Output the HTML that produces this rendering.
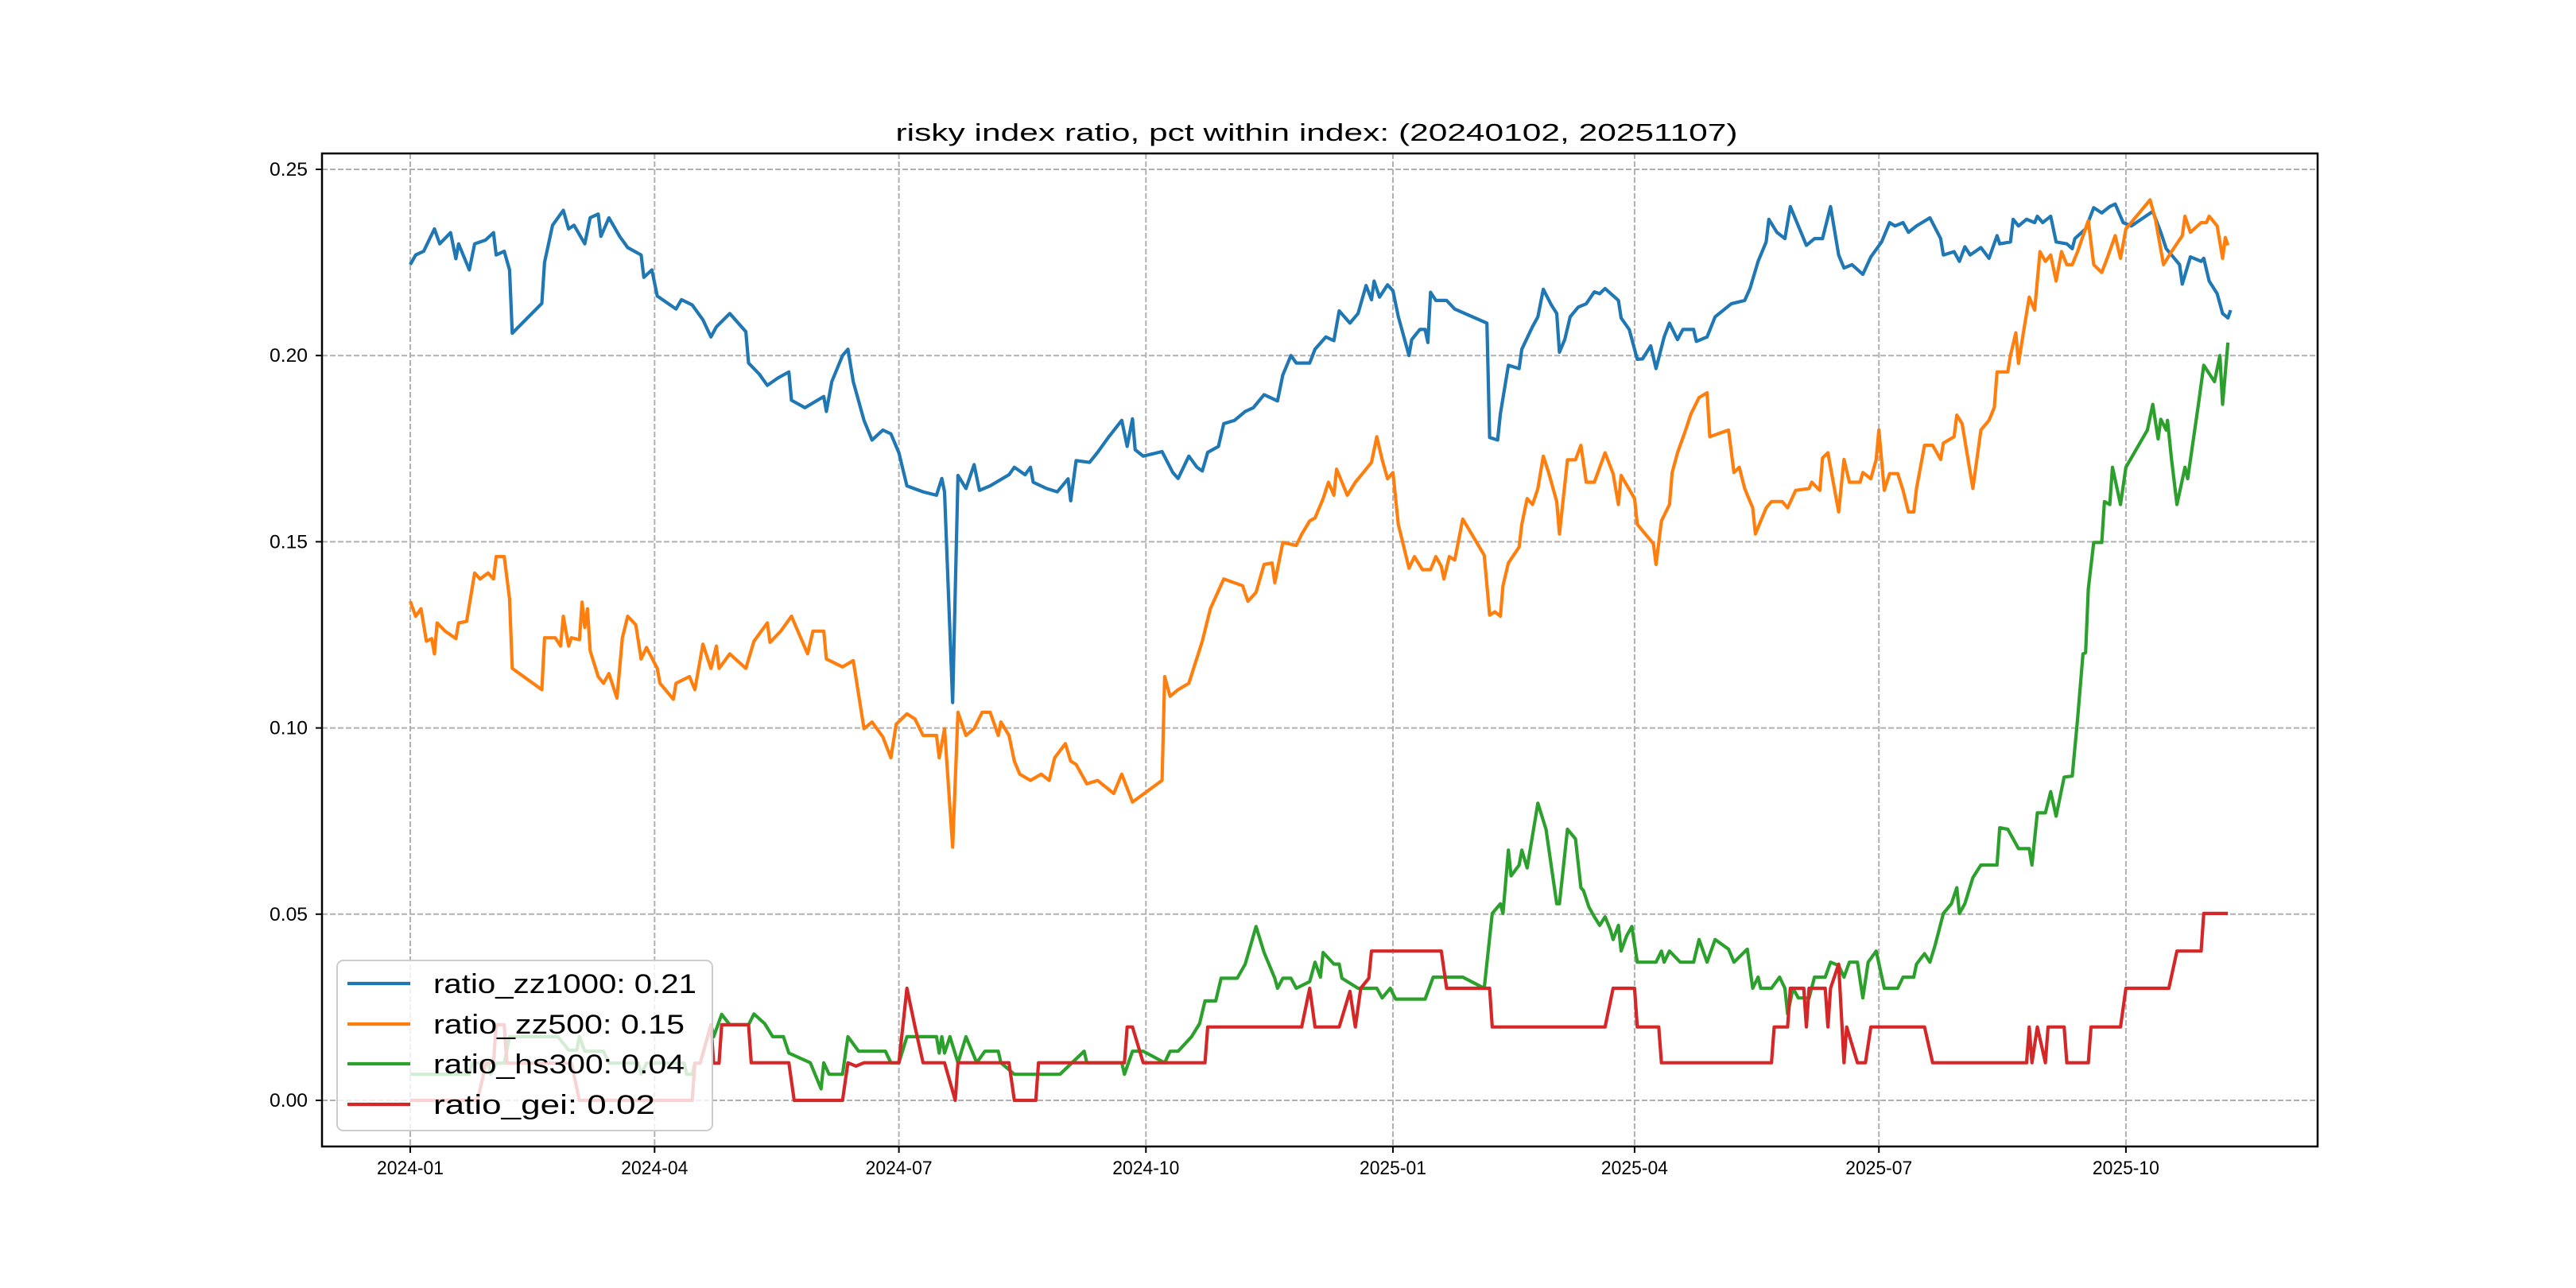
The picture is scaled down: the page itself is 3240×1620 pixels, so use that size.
<!DOCTYPE html>
<html><head><meta charset="utf-8">
<style>
html,body{margin:0;padding:0;background:#fff;}
svg{display:block;}
</style></head>
<body>
<svg id="chart" width="3240" height="1620" viewBox="0 0 3240 1620" xmlns="http://www.w3.org/2000/svg">
<rect x="0" y="0" width="3240" height="1620" fill="#fff"/>
<g id="grid"></g>
<g id="series"></g>
<g id="axes"></g>
<text x="1656" y="177" text-anchor="middle" font-family="Liberation Sans, sans-serif" font-size="31" textLength="1059" lengthAdjust="spacingAndGlyphs" fill="#000">risky index ratio, pct within index: (20240102, 20251107)</text>
<g id="legend">
<rect x="424" y="1208" width="472" height="214" rx="8" fill="#fff" fill-opacity="0.8" stroke="#cccccc" stroke-width="2"/>
<line x1="437" y1="1237" x2="516" y2="1237" stroke="#1f77b4" stroke-width="4.2"/>
<text x="545" y="1249" font-family="Liberation Sans, sans-serif" font-size="34" textLength="331" lengthAdjust="spacingAndGlyphs">ratio_zz1000: 0.21</text>
<line x1="437" y1="1288" x2="516" y2="1288" stroke="#ff7f0e" stroke-width="4.2"/>
<text x="545" y="1300" font-family="Liberation Sans, sans-serif" font-size="34" textLength="316" lengthAdjust="spacingAndGlyphs">ratio_zz500: 0.15</text>
<line x1="437" y1="1338" x2="516" y2="1338" stroke="#2ca02c" stroke-width="4.2"/>
<text x="545" y="1350" font-family="Liberation Sans, sans-serif" font-size="34" textLength="316" lengthAdjust="spacingAndGlyphs">ratio_hs300: 0.04</text>
<line x1="437" y1="1389" x2="516" y2="1389" stroke="#d62728" stroke-width="4.2"/>
<text x="545" y="1401" font-family="Liberation Sans, sans-serif" font-size="34" textLength="279" lengthAdjust="spacingAndGlyphs">ratio_gei: 0.02</text>
</g>
</svg>
<script>
// ---- data (day offset from 2024-01-01, value) ----
const xTickLabels = ["2024-01","2024-04","2024-07","2024-10","2025-01","2025-04","2025-07","2025-10"];
const xTickDays = [0,91,182,274,366,456,547,639];
const yTickValues = [0,0.05,0.10,0.15,0.20,0.25];
const yTickLabels = ["0.00","0.05","0.10","0.15","0.20","0.25"];

const zz1000 = [[0,.2244],[2,.227],[5,.228],[9,.234],[11,.230],[15,.233],[17,.226],[18,.230],[22,.223],[24,.230],[28,.231],[31,.233],[32,.227],[35,.228],[37,.223],[38,.206],[49,.214],[50,.225],[53,.235],[57,.239],[59,.234],[61,.235],[65,.230],[67,.237],[70,.238],[71,.232],[74,.237],[78,.232],[81,.229],[86,.227],[87,.221],[90,.223],[92,.216],[99,.2125],[101,.215],[105,.2136],[109,.2096],[112,.205],[114,.2077],[119,.2113],[125,.2064],[126,.198],[130,.195],[133,.192],[137,.194],[141,.1956],[142,.188],[147,.186],[154,.189],[155,.185],[157,.193],[161,.200],[163,.2017],[165,.193],[169,.1826],[172,.1773],[176,.180],[179,.179],[182,.1739],[185,.165],[191,.1634],[196,.1625],[198,.167],[199,.1634],[202,.1068],[204,.1678],[207,.1643],[210,.1707],[212,.1638],[216,.165],[223,.168],[225,.170],[229,.168],[231,.170],[232,.166],[237,.1643],[241,.1634],[245,.1669],[246,.161],[248,.1718],[253,.1713],[256,.174],[260,.178],[265,.1826],[267,.1756],[269,.183],[270,.1747],[273,.173],[280,.1742],[284,.1686],[286,.167],[290,.173],[293,.170],[295,.169],[297,.174],[301,.1756],[303,.1817],[307,.1826],[311,.185],[314,.186],[318,.1895],[323,.1878],[325,.1948],[328,.200],[330,.198],[335,.198],[337,.2017],[341,.205],[344,.204],[346,.212],[350,.2087],[353,.2113],[356,.2188],[358,.215],[359,.220],[361,.2157],[364,.219],[366,.2174],[368,.2105],[372,.200],[373,.2043],[376,.207],[378,.207],[379,.2035],[380,.217],[382,.2148],[386,.2148],[389,.2125],[401,.2087],[402,.178],[405,.1773],[406,.1843],[409,.1974],[413,.1965],[414,.2017],[418,.2078],[420,.2104],[422,.2178],[425,.2136],[427,.2113],[428,.2009],[430,.2043],[432,.2104],[435,.213],[438,.2139],[441,.2171],[443,.2166],[445,.218],[450,.2148],[451,.2101],[454,.207],[457,.199],[459,.1991],[462,.2026],[464,.1965],[467,.205],[469,.2087],[472,.2043],[474,.207],[478,.207],[479,.2038],[483,.205],[486,.2104],[492,.2139],[497,.2148],[499,.218],[502,.2253],[505,.2305],[506,.2366],[509,.2331],[512,.2314],[514,.240],[517,.2348],[520,.2296],[523,.2314],[526,.2314],[529,.240],[532,.227],[534,.2235],[537,.2244],[541,.2218],[544,.2265],[548,.2305],[551,.2357],[553,.2348],[556,.2357],[558,.2331],[561,.2348],[566,.237],[570,.2314],[571,.227],[575,.2279],[577,.2253],[579,.2292],[581,.227],[585,.229],[588,.2261],[591,.2322],[592,.230],[596,.2305],[597,.2366],[599,.2348],[602,.2366],[605,.2357],[606,.2374],[608,.2357],[611,.2374],[613,.2305],[617,.230],[619,.2287],[620,.2314],[624,.234],[627,.2397],[630,.2383],[633,.240],[635,.2407],[638,.2357],[641,.2348],[649,.2387],[652,.2331],[654,.2287],[656,.227],[659,.2244],[660,.2192],[663,.2265],[667,.2253],[668,.2261],[670,.220],[673,.2166],[675,.2113],[677,.2101],[678,.2122]];

const zz500 = [[0,.134],[2,.130],[4,.132],[6,.1233],[8,.124],[9,.1199],[10,.1282],[13,.126],[17,.124],[18,.1282],[21,.1286],[24,.1416],[26,.140],[29,.1416],[31,.140],[32,.146],[35,.146],[37,.1347],[38,.116],[49,.1103],[50,.1242],[54,.1242],[56,.122],[57,.130],[59,.122],[60,.1242],[63,.1237],[64,.1338],[65,.127],[66,.132],[67,.1207],[70,.1138],[72,.112],[74,.1146],[77,.108],[79,.1242],[81,.130],[84,.1277],[86,.1185],[88,.1216],[92,.116],[93,.112],[98,.1077],[99,.112],[104,.1138],[106,.1103],[109,.1225],[112,.116],[114,.122],[115,.116],[119,.1199],[125,.116],[128,.1233],[133,.1282],[134,.123],[138,.126],[142,.130],[148,.1199],[150,.126],[154,.126],[155,.1185],[161,.1164],[165,.1181],[169,.0998],[172,.1016],[176,.0976],[179,.092],[181,.101],[185,.1038],[188,.1024],[191,.098],[196,.098],[197,.092],[199,.0998],[202,.068],[204,.1042],[207,.098],[210,.0998],[213,.1042],[216,.1042],[219,.098],[220,.1016],[223,.098],[225,.0911],[227,.0876],[231,.0859],[235,.0876],[238,.0859],[240,.092],[244,.0958],[246,.0911],[248,.0902],[252,.085],[256,.0859],[262,.0824],[265,.0876],[269,.0801],[280,.0859],[281,.1138],[283,.1085],[286,.1103],[290,.112],[295,.1233],[298,.132],[303,.140],[310,.1382],[312,.134],[315,.1364],[318,.1439],[321,.1443],[322,.139],[325,.1498],[330,.149],[332,.152],[335,.1556],[337,.1564],[340,.1616],[342,.166],[344,.1625],[345,.1695],[349,.1625],[352,.166],[355,.1686],[358,.1713],[360,.1782],[362,.172],[364,.1669],[366,.1686],[368,.1547],[372,.1429],[374,.146],[377,.1425],[380,.1425],[382,.146],[384,.1434],[385,.140],[387,.146],[389,.1451],[392,.1561],[400,.1464],[402,.1303],[404,.1312],[406,.130],[407,.1382],[409,.1443],[413,.1486],[414,.1547],[416,.1616],[418,.160],[420,.1643],[422,.173],[424,.1686],[427,.1608],[428,.1521],[431,.172],[434,.172],[436,.1759],[438,.166],[441,.166],[445,.1739],[448,.1683],[450,.160],[451,.1678],[456,.1616],[457,.1547],[461,.1512],[463,.1495],[464,.1439],[466,.1556],[469,.160],[470,.1686],[472,.1739],[475,.180],[477,.1843],[480,.1887],[483,.190],[484,.1782],[491,.180],[493,.1686],[495,.170],[497,.1643],[500,.1591],[501,.1521],[505,.1591],[507,.1608],[511,.1608],[513,.1591],[516,.1638],[521,.1643],[522,.166],[525,.1638],[526,.1725],[528,.1739],[532,.158],[534,.1721],[536,.166],[540,.166],[541,.1686],[544,.1669],[546,.1721],[547,.180],[549,.1638],[551,.1683],[554,.1683],[556,.1638],[558,.158],[560,.158],[561,.1643],[564,.1759],[567,.1759],[570,.1721],[571,.1765],[575,.1782],[576,.184],[578,.1817],[582,.1643],[585,.180],[588,.1826],[590,.1861],[591,.1956],[595,.1956],[596,.200],[598,.2061],[599,.1979],[601,.207],[603,.2157],[605,.2122],[607,.2279],[609,.2253],[611,.227],[613,.220],[615,.2279],[617,.2244],[619,.2244],[621,.2279],[625,.2362],[627,.2244],[630,.2223],[632,.2261],[635,.2322],[637,.2261],[639,.234],[648,.2418],[650,.2366],[653,.2244],[656,.2279],[660,.2322],[661,.2374],[663,.2331],[667,.2357],[669,.2357],[670,.2374],[673,.2348],[675,.2261],[676,.2317],[677,.2296]];

const hs300 = [[0,.0070],[22,.0070],[23,.0100],[29,.0100],[30,.0070],[32,.0100],[35,.0100],[37,.0171],[55,.0171],[59,.0135],[62,.0135],[63,.0171],[65,.0132],[72,.0132],[74,.0100],[85,.0100],[86,.0070],[88,.0100],[102,.0100],[103,.0070],[105,.0070],[106,.0100],[108,.0100],[112,.0203],[113,.0171],[116,.0231],[119,.0203],[126,.0203],[128,.0232],[132,.0206],[135,.0171],[139,.0171],[141,.0127],[149,.0101],[153,.0031],[154,.0101],[156,.007],[161,.007],[163,.0171],[167,.0132],[177,.0132],[179,.0101],[182,.0101],[185,.0171],[196,.0171],[197,.0127],[198,.0171],[199,.0127],[201,.0171],[204,.0101],[207,.0171],[209,.0136],[211,.0101],[214,.0132],[219,.0132],[220,.0101],[225,.007],[242,.007],[251,.0132],[252,.0101],[265,.0101],[266,.007],[269,.0132],[273,.0132],[281,.0101],[283,.0132],[286,.0132],[291,.0171],[294,.0206],[296,.0267],[300,.0267],[302,.0328],[308,.0328],[311,.0366],[315,.0467],[318,.0397],[322,.0328],[323,.0301],[325,.0328],[328,.0328],[330,.0301],[335,.0319],[337,.0371],[339,.0331],[340,.0397],[344,.0366],[346,.0366],[347,.0328],[353,.0301],[360,.0301],[362,.0275],[365,.0301],[367,.0272],[378,.0272],[381,.0331],[392,.0331],[400,.0301],[403,.0502],[406,.0528],[407,.0502],[409,.0672],[410,.0603],[413,.0632],[414,.0672],[416,.0624],[420,.0798],[423,.0728],[427,.0528],[428,.0528],[431,.0728],[434,.0702],[436,.0571],[437,.0563],[439,.0519],[441,.0493],[443,.047],[445,.0493],[447,.0458],[448,.0432],[450,.047],[451,.0401],[453,.0441],[455,.0467],[457,.0371],[464,.0371],[466,.0401],[467,.0371],[469,.0401],[473,.0371],[478,.0371],[480,.0432],[483,.0371],[486,.0432],[491,.0406],[493,.0371],[498,.0406],[500,.0301],[502,.0331],[503,.0301],[507,.0301],[510,.0331],[512,.0301],[513,.0232],[515,.0301],[517,.0275],[521,.0275],[523,.0331],[527,.0331],[529,.0371],[532,.0362],[534,.0331],[536,.0371],[539,.0371],[541,.0275],[543,.0371],[546,.0401],[549,.0301],[554,.0301],[556,.0331],[560,.0331],[561,.0366],[564,.0394],[566,.0371],[568,.0418],[571,.0502],[574,.0528],[576,.0571],[577,.0502],[579,.0528],[582,.0598],[585,.0632],[591,.0632],[592,.0732],[595,.0728],[597,.0702],[599,.0676],[603,.0676],[604,.0632],[606,.0772],[609,.0772],[611,.0829],[613,.0763],[616,.0868],[619,.0871],[621,.1024],[623,.1199],[624,.1202],[625,.1373],[627,.1498],[630,.1498],[631,.1608],[633,.160],[634,.170],[637,.160],[639,.170],[647,.180],[649,.1869],[651,.1776],[652,.1829],[654,.180],[654.5,.1826],[656,.1721],[658,.160],[661,.170],[662,.1669],[666,.1869],[668,.1974],[672,.193],[674,.200],[675,.1869],[677,.2035]];

const gei = [[0,0],[25,0],[27,.006],[28,.0100],[31,.0100],[32,.0203],[35,.0203],[36,.0100],[60,.0100],[63,0],[105,0],[106,.0100],[108,.0100],[112,.0203],[113,.0100],[115,.0100],[116,.0203],[126,.0203],[127,.0101],[141,.0101],[143,0],[161,0],[163,.0101],[166,.0092],[169,.0101],[182,.0101],[185,.0301],[188,.0197],[191,.0101],[199,.0101],[203,0],[204,.0101],[223,.0101],[225,0],[233,0],[234,.0101],[266,.0101],[267,.0197],[269,.0197],[273,.0101],[296,.0101],[297,.0197],[332,.0197],[335,.0301],[337,.0197],[346,.0197],[350,.0293],[352,.0197],[354,.0301],[357,.0328],[358,.0401],[384,.0401],[386,.0301],[402,.0301],[403,.0197],[445,.0197],[448,.0301],[456,.0301],[457,.0197],[465,.0197],[466,.0101],[507,.0101],[508,.0197],[513,.0197],[514,.0301],[519,.0301],[520,.0197],[521,.0301],[527,.0301],[528,.0197],[529,.0301],[532,.0366],[534,.0101],[535,.0197],[539,.0101],[542,.0101],[544,.0197],[564,.0197],[567,.0101],[602,.0101],[603,.0197],[604,.0101],[606,.0197],[609,.0101],[610,.0197],[616,.0197],[617,.0101],[625,.0101],[626,.0197],[637,.0197],[639,.0301],[655,.0301],[658,.0401],[667,.0401],[668,.0502],[677,.0502]];

// ---- layout ----
const L=405, R=2915, T=193, B=1442;
const X0=516, PXD=3.377;
const Y0=1384, PXV=234.2/0.05;
function xs(d){return X0+d*PXD;}
function ys(v){return Y0-v*PXV;}
const NS="http://www.w3.org/2000/svg";
function mk(tag,attrs,parent){const e=document.createElementNS(NS,tag);for(const k in attrs)e.setAttribute(k,attrs[k]);parent.appendChild(e);return e;}

const grid=document.getElementById('grid');
const axes=document.getElementById('axes');
const series=document.getElementById('series');

xTickDays.forEach((d,i)=>{
  const x=xs(d);
  const g=mk('line',{x1:x,y1:T,x2:x,y2:B,stroke:'#b0b0b0','stroke-width':2,'stroke-dasharray':'7,3'},grid);
  
  
  const t=mk('line',{x1:x,y1:B,x2:x,y2:B+8,stroke:'#000','stroke-width':2},axes);
  
  
  const lb=mk('text',{x:x,y:B+35,'text-anchor':'middle','font-family':'Liberation Sans, sans-serif','font-size':24,textLength:84,lengthAdjust:'spacingAndGlyphs'},axes);
  lb.textContent=xTickLabels[i];
  
  
});
yTickValues.forEach((v,i)=>{
  const y=ys(v);
  const g=mk('line',{x1:L,y1:y,x2:R,y2:y,stroke:'#b0b0b0','stroke-width':2,'stroke-dasharray':'7,3'},grid);
  
  
  const t=mk('line',{x1:L-8,y1:y,x2:L,y2:y,stroke:'#000','stroke-width':2},axes);
  
  
  const lb=mk('text',{x:L-18,y:y+8,'text-anchor':'end','font-family':'Liberation Sans, sans-serif','font-size':24,textLength:48,lengthAdjust:'spacingAndGlyphs'},axes);
  lb.textContent=yTickLabels[i];
  
  
});
const frame=mk('rect',{x:L,y:T,width:R-L,height:B-T,fill:'none',stroke:'#000','stroke-width':2.5},axes);



function drawSeries(data,color,name){
  const d=data.map((p,i)=>(i?'L':'M')+xs(p[0]).toFixed(1)+','+ys(p[1]).toFixed(1)).join('');
  const p=mk('path',{d:d,fill:'none',stroke:color,'stroke-width':4.2,'stroke-linejoin':'round'},series);
  
  
}
drawSeries(zz1000,'#1f77b4','line-ratio-zz1000');
drawSeries(zz500,'#ff7f0e','line-ratio-zz500');
drawSeries(hs300,'#2ca02c','line-ratio-hs300');
drawSeries(gei,'#d62728','line-ratio-gei');
</script>
</body></html>
